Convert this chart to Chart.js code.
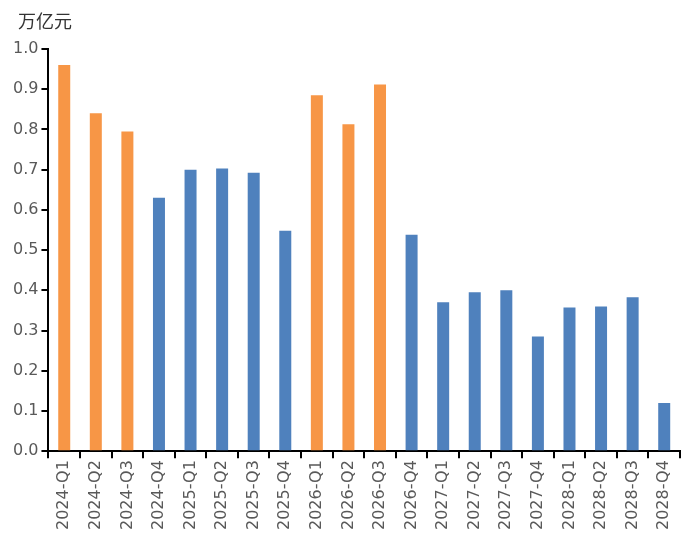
<!DOCTYPE html>
<html>
<head>
<meta charset="utf-8">
<script src="https://cdn.jsdelivr.net/npm/chart.js@4"></script>
<style>
  body { margin: 0; background: #fff; }
  #wrap { position: relative; width: 700px; height: 548px; }
  #unit { position: absolute; left: 18px; top: 7px; font: 18px "Noto Sans CJK SC", sans-serif; color: #333; }
</style>
</head>
<body>
<div id="wrap">
  <div id="unit">万亿元</div>
  <canvas id="myChart" width="700" height="548"></canvas>
</div>
<script>
const quarters = ['2024-Q1', '2024-Q2', '2024-Q3', '2024-Q4', '2025-Q1', '2025-Q2', '2025-Q3', '2025-Q4',
  '2026-Q1', '2026-Q2', '2026-Q3', '2026-Q4', '2027-Q1', '2027-Q2', '2027-Q3', '2027-Q4',
  '2028-Q1', '2028-Q2', '2028-Q3', '2028-Q4'];
const amounts = [0.96, 0.84, 0.795, 0.63, 0.70, 0.703, 0.692, 0.548,
  0.885, 0.813, 0.912, 0.538, 0.37, 0.395, 0.40, 0.285,
  0.357, 0.36, 0.383, 0.12];
// orange = highlighted quarters, blue = the rest
const highlighted = [true, true, true, false, false, false, false, false,
  true, true, true, false, false, false, false, false,
  false, false, false, false];

const ctx = document.getElementById('myChart');

new Chart(ctx, {
  type: 'bar',
  data: {
    labels: quarters,
    datasets: [{
      data: amounts,
      backgroundColor: highlighted.map(h => h ? '#F79646' : '#4F81BD'),
      barPercentage: 0.38,
      categoryPercentage: 1
    }]
  },
  options: {
    responsive: false,
    animation: false,
    layout: { padding: { top: 49, right: 20, left: 10, bottom: 16 } },
    plugins: { legend: { display: false }, tooltip: { enabled: false } },
    scales: {
      x: {
        grid: { offset: true, drawOnChartArea: false, drawTicks: true, tickLength: 7, color: '#000', lineWidth: 2 },
        border: { color: '#000', width: 2 },
        ticks: {
          minRotation: 90, maxRotation: 90, autoSkip: false,
          color: '#595959', font: { family: 'DejaVu Sans', size: 16 }, padding: 2
        }
      },
      y: {
        min: 0, max: 1.0,
        grid: { drawOnChartArea: false, drawTicks: true, tickLength: 7, color: '#000', lineWidth: 2 },
        border: { color: '#000', width: 2 },
        ticks: {
          stepSize: 0.1,
          callback: v => v.toFixed(1),
          color: '#595959', font: { family: 'DejaVu Sans', size: 16 }, padding: 3
        }
      }
    }
  }
});
</script>
</body>
</html>
